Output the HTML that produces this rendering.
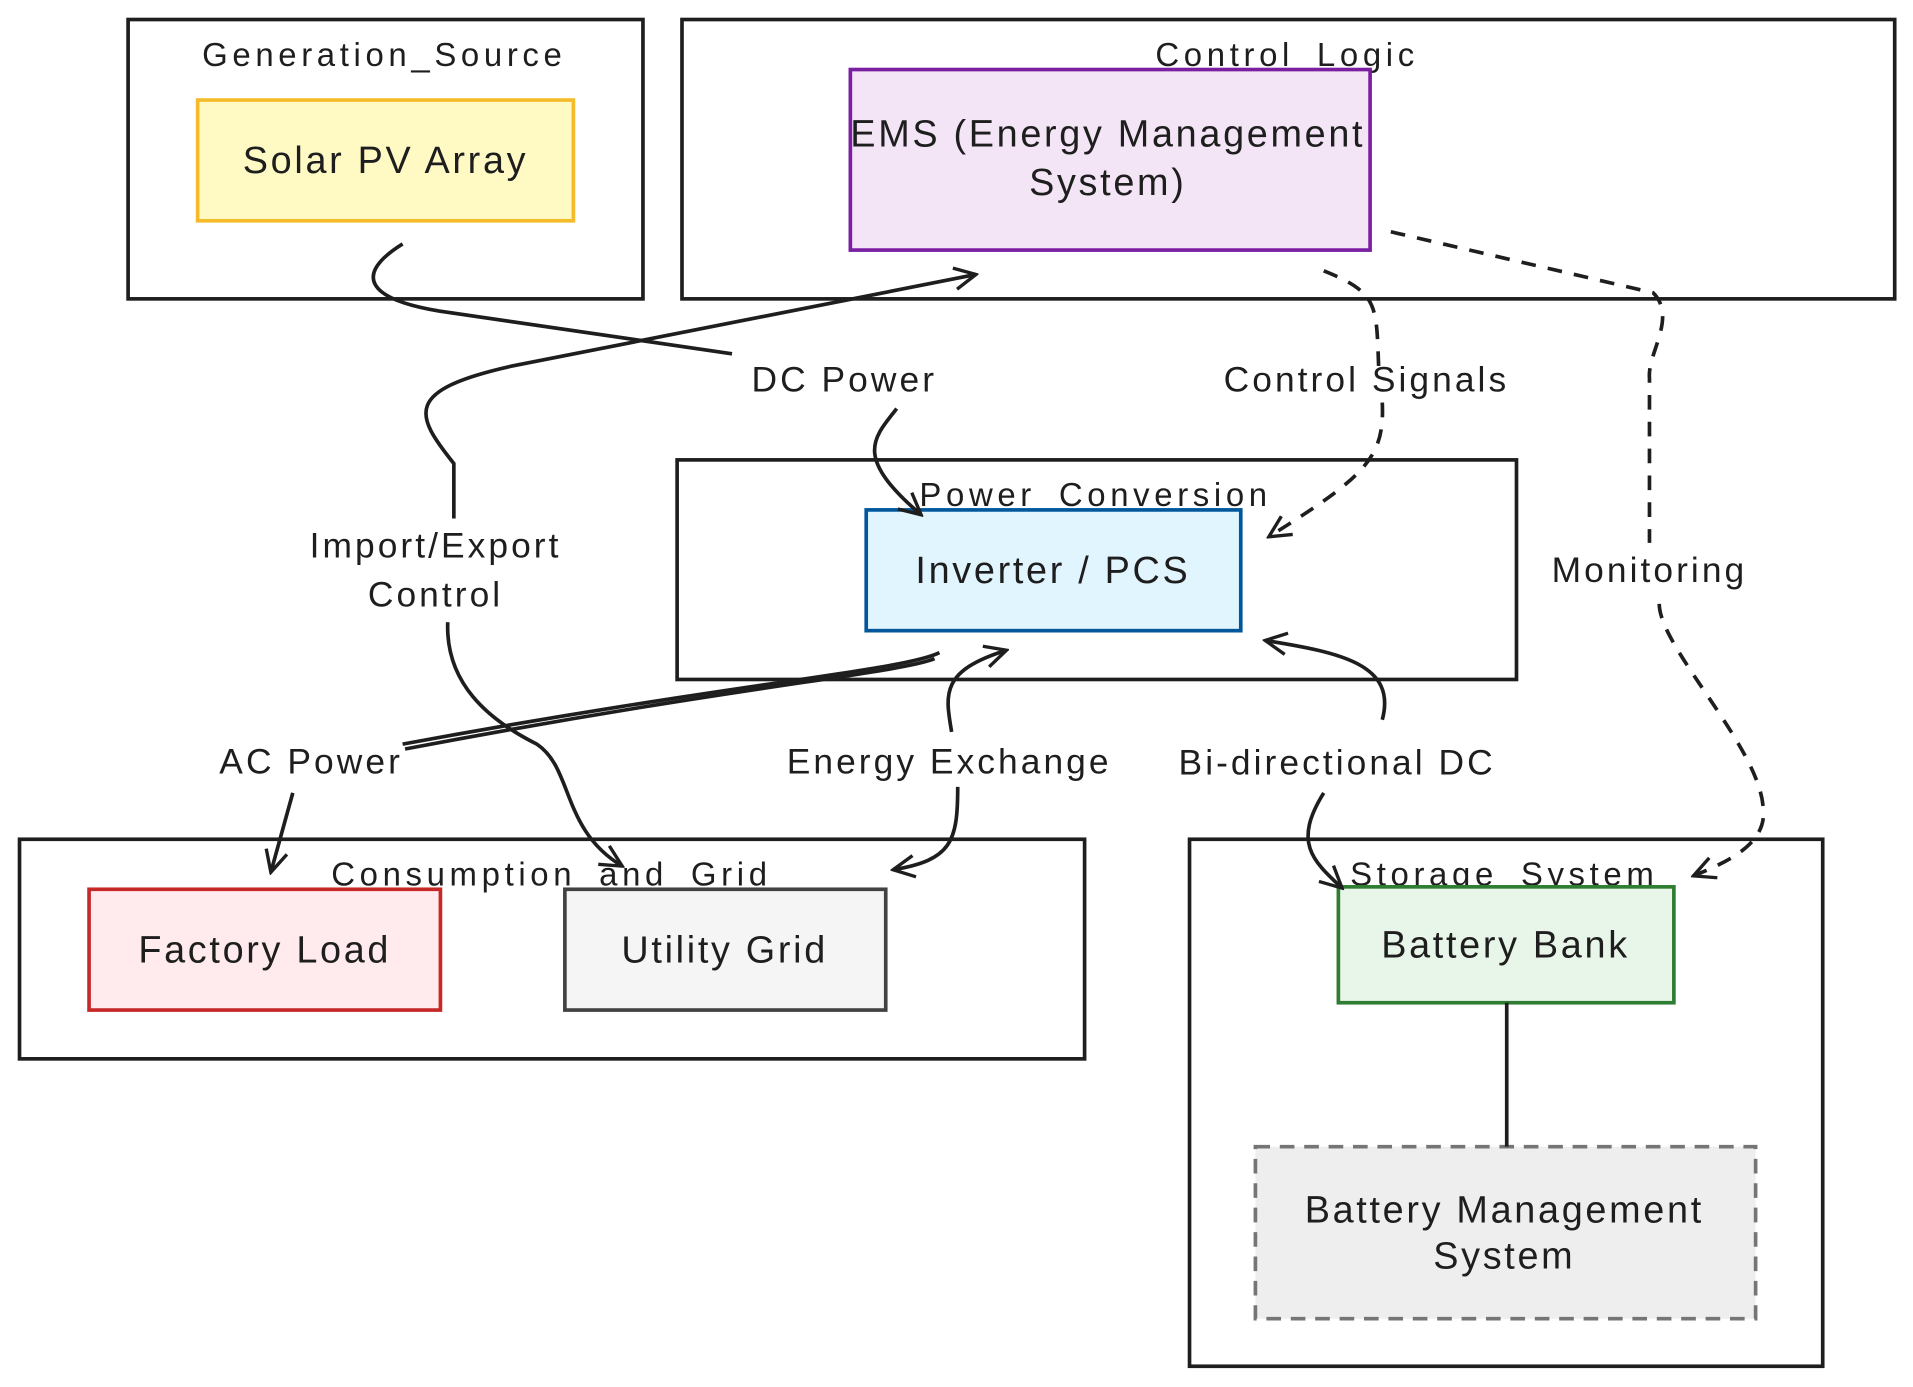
<!DOCTYPE html>
<html><head><meta charset="utf-8"><style>
html,body{margin:0;padding:0;background:#fff;}
svg{display:block;}
text{font-family:"Liberation Sans",sans-serif;fill:#1e1e1e;}
.g{letter-spacing:3.8px;}
.n{letter-spacing:2.2px;}
.e{letter-spacing:2.5px;}
</style></head><body>
<svg width="1913" height="1387" viewBox="0 0 1568 1137" preserveAspectRatio="none" xmlns="http://www.w3.org/2000/svg">
<defs>
<marker id="a" viewBox="0 0 20 20" refX="18" refY="10" markerWidth="22" markerHeight="22" markerUnits="userSpaceOnUse" orient="auto">
<path d="M2,2 L18,10 L2,18" fill="none" stroke="#1e1e1e" stroke-width="2.5"/>
</marker>
</defs>
<g fill="none" stroke="#1e1e1e" stroke-width="3">
<rect x="105" y="16" width="422" height="229"/>
<rect x="559" y="16" width="994" height="229"/>
<rect x="555" y="377" width="688" height="180"/>
<rect x="16" y="688" width="873" height="180"/>
<rect x="975" y="688" width="519" height="432"/>
</g>
<g font-size="27" text-anchor="middle" class="g">
<text x="315" y="54">Generation_Source</text>
<text x="1055" y="54">Control_Logic</text>
<text x="898" y="415">Power_Conversion</text>
<text x="452" y="726">Consumption_and_Grid</text>
<text x="1233" y="726">Storage_System</text>
</g>
<rect x="162" y="82" width="308" height="99" fill="#fff9c4" stroke="#f4bc2b" stroke-width="3"/>
<rect x="697" y="57" width="426" height="148" fill="#f3e5f5" stroke="#7b1fa2" stroke-width="3"/>
<rect x="710" y="418" width="307" height="99" fill="#e1f5fe" stroke="#01579b" stroke-width="3"/>
<rect x="73" y="729" width="288" height="99" fill="#ffebee" stroke="#c62828" stroke-width="3"/>
<rect x="463" y="729" width="263" height="99" fill="#f5f5f5" stroke="#424242" stroke-width="3"/>
<rect x="1097" y="727" width="275" height="95" fill="#e8f5e9" stroke="#2e7d32" stroke-width="3"/>
<rect x="1029" y="940" width="410" height="141" fill="#eeeeee" stroke="#757575" stroke-width="3" stroke-dasharray="12 8"/>
<g font-size="31" text-anchor="middle" class="n">
<text x="316" y="142">Solar PV Array</text>
<text x="908" y="120">EMS (Energy Management</text>
<text x="908" y="160">System)</text>
<text x="863" y="478">Inverter / PCS</text>
<text x="217" y="789">Factory Load</text>
<text x="594" y="789">Utility Grid</text>
<text x="1234" y="785">Battery Bank</text>
<text x="1233" y="1002">Battery Management</text>
<text x="1233" y="1040">System</text>
</g>
<g fill="none" stroke="#1e1e1e" stroke-width="3">
<path d="M1235,822 L1235,940"/>
<path d="M330,200 C290,225 300,245 360,255 L600,290"/>
<path d="M735,335 C715,360 700,375 755,422" marker-end="url(#a)"/>
<path d="M372,425 L372,380 C340,340 330,320 420,300 L800,225" marker-end="url(#a)"/>
<path d="M367,510 C365,560 400,590 440,610 C470,630 460,680 510,710" marker-end="url(#a)"/>
<path d="M1085,222 C1130,240 1128,250 1130,300" stroke-dasharray="12 10"/>
<path d="M1133,330 C1135,375 1120,390 1040,440" stroke-dasharray="12 10" marker-end="url(#a)"/>
<path d="M1140,190 L1355,240 C1375,260 1350,290 1352,310 L1352,445" stroke-dasharray="12 10"/>
<path d="M1360,495 C1360,530 1440,610 1445,660 C1450,690 1420,705 1388,718" stroke-dasharray="12 10" marker-end="url(#a)"/>
<path d="M770,535 C740,550 600,560 330,610"/>
<path d="M766,540 C736,552 600,563 332,614"/>
<path d="M240,650 L222,715" marker-end="url(#a)"/>
<path d="M780,600 C775,570 770,550 825,533" marker-end="url(#a)"/>
<path d="M785,645 C785,690 780,705 732,713" marker-end="url(#a)"/>
<path d="M1133,590 C1145,545 1100,535 1037,525" marker-end="url(#a)"/>
<path d="M1085,650 C1060,690 1075,705 1100,728" marker-end="url(#a)"/>
</g>
<g font-size="29" text-anchor="middle" class="e">
<text x="692" y="321">DC Power</text>
<text x="1120" y="321">Control Signals</text>
<text x="357" y="457">Import/Export</text>
<text x="357" y="497">Control</text>
<text x="1352" y="477">Monitoring</text>
<text x="255" y="634">AC Power</text>
<text x="778" y="634">Energy Exchange</text>
<text x="1096" y="635">Bi-directional DC</text>
</g>
</svg>
</body></html>
